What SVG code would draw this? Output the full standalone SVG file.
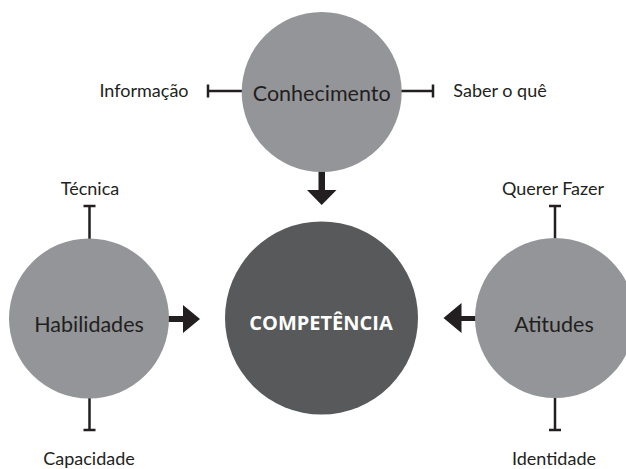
<svg xmlns="http://www.w3.org/2000/svg" width="626" height="469" viewBox="0 0 626 469">
<style>
.lc{fill:#939598}
.dc{fill:#58595b}
.lbl{font-family:Lato,"Open Sans","Liberation Sans",sans-serif;font-size:21.5px;fill:#231f20;text-anchor:middle}
.sm{font-family:Lato,"Open Sans","Liberation Sans",sans-serif;font-size:18px;fill:#231f20;text-anchor:middle}
.main{font-family:"Open Sans",Lato,"Liberation Sans",sans-serif;font-size:20px;font-weight:bold;fill:#fff;text-anchor:middle}
.ln{stroke:#231f20;stroke-width:2.5;fill:none}
.ar{fill:#231f20}
</style>
<rect width="626" height="469" fill="#fff"/>
<g id="connectors">
<path class="ln" d="M208 91H242M208 84.5V97.5"/>
<path class="ln" d="M401 91H433M433 84.5V97.5"/>
<path class="ln" d="M89.5 206V239M83.5 206H95.5"/>
<path class="ln" d="M89.5 398V430M83.5 430H95.5"/>
<path class="ln" d="M555 206V239M549 206H561"/>
<path class="ln" d="M555 398V430M549 430H561"/>
<path class="ar" d="M318.5 171H325V190H336.5L321.7 205L307 190H318.5Z"/>
<path class="ar" d="M168 316H183V305L200 319L183 333V322H168Z"/>
<path class="ar" d="M476 316H461.5V303L443.5 318L461.5 333V321H476Z"/>
</g>
<g id="conhecimento">
<circle class="lc" cx="321.7" cy="92" r="80"/>
<text class="lbl" x="321.7" y="100.5">Conhecimento</text>
</g>
<g id="habilidades">
<circle class="lc" cx="89" cy="318.5" r="80"/>
<text class="lbl" x="89" y="331.5">Habilidades</text>
</g>
<g id="atitudes">
<circle class="lc" cx="555" cy="318" r="80"/>
<text class="lbl" x="554" y="331.5">Atitudes</text>
</g>
<g id="competencia">
<circle class="dc" cx="321.5" cy="318" r="96.5"/>
<text class="main" x="321" y="330">COMPETÊNCIA</text>
</g>
<g id="informacao"><text class="sm" x="144" y="97">Informação</text></g>
<g id="saber"><text class="sm" x="500" y="97">Saber o quê</text></g>
<g id="tecnica"><text class="sm" x="90" y="195">Técnica</text></g>
<g id="capacidade"><text class="sm" x="89" y="465">Capacidade</text></g>
<g id="querer"><text class="sm" x="553" y="195">Querer Fazer</text></g>
<g id="identidade"><text class="sm" x="554" y="465">Identidade</text></g>
</svg>
